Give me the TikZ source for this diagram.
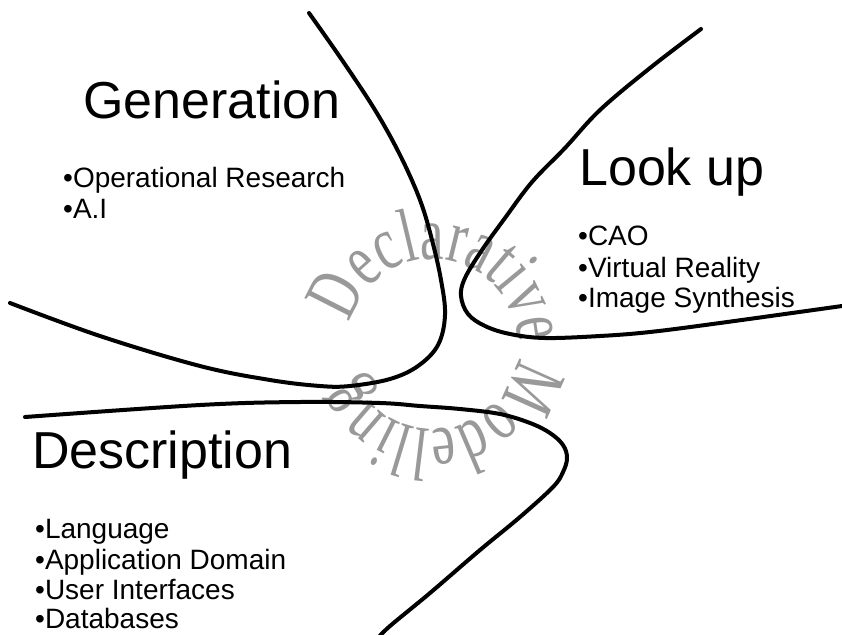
\documentclass[tikz,border=0pt]{standalone}
\usepackage{fontspec}
\setmainfont{Liberation Sans}
\newfontfamily\arcfont[FakeStretch=0.70]{Liberation Serif}
\usetikzlibrary{decorations.text}
\begin{document}
\begin{tikzpicture}[x=1pt,y=-1pt,
  curve/.style={line width=4pt, line cap=round, line join=round},
  head/.style={anchor=base west, inner sep=0pt, font=\fontsize{52}{52}\selectfont},
  item/.style={anchor=base west, inner sep=0pt, font=\fontsize{28}{31}\selectfont},
  ring/.style={decorate, decoration={text along path, text align=fit to path,
      text color=black!40,
      text={|\arcfont\fontsize{76}{76}\selectfont|Declarative Modelling}}}]
\useasboundingbox[fill=white] (0,0) rectangle (842,634);

% circular title in the middle
\begin{scope}[shift={(433,344)}, y=1pt]
  \path[ring] (166:85) arc[start angle=166, end angle=-153, radius=85];
\end{scope}

% Generation region
\node[head] (gen) at (83,118) {Generation};
\node[item] (gen1) at (63,187) {•Operational Research};
\node[item] (gen2) at (63,218) {•A.I};

% Look up region
\node[head] (look) at (579,185) {Look up};
\node[item] (look1) at (578,245) {•CAO};
\node[item] (look2) at (578,277) {•Virtual Reality};
\node[item] (look3) at (578,307) {•Image Synthesis};

% Description region
\node[head] (desc) at (32,468) {Description};
\node[item] (desc1) at (35,538) {•Language};
\node[item] (desc2) at (35,569) {•Application Domain};
\node[item] (desc3) at (35,599) {•User Interfaces};
\node[item] (desc4) at (35,628) {•Databases};

% region boundaries
\draw[curve] plot[smooth, tension=0.6] coordinates {
  (309,13) (342,60) (375,110) (400,155) (420,200) (432,240) (441,280)
  (445,315) (438,345) (418,366) (390,379) (350,386) (320,386) (270,380)
  (200,366) (100,336) (10,303)};
\draw[curve] plot[smooth, tension=0.6] coordinates {
  (701,29) (650,68) (600,110) (565,148) (532,182) (505,218) (482,250)
  (465,278) (461,296) (468,314) (485,326) (510,334) (545,338) (600,336)
  (650,332) (720,323) (842,306)};
\draw[curve] plot[smooth, tension=0.6] coordinates {
  (25,417) (200,405) (300,402) (380,403) (420,406) (460,409) (500,414)
  (530,423) (550,433) (563,445) (567,458) (563,472) (553,487) (520,517)
  (480,550) (430,593) (390,626) (378,638)};
\end{tikzpicture}
\end{document}
